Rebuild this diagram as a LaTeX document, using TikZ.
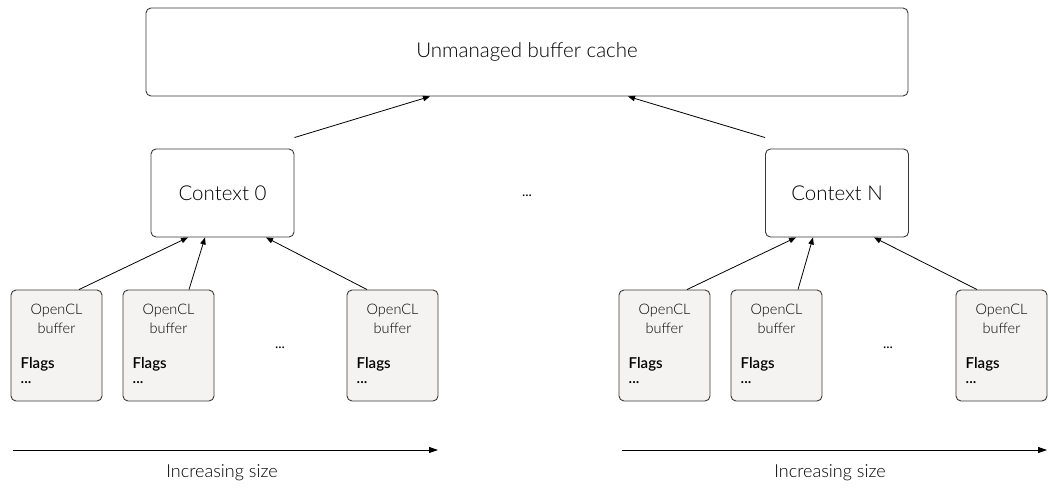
\documentclass[tikz,border=0pt]{standalone}
\usepackage{fontspec}
\setmainfont{Lato}
\newfontfamily\lightf{Lato Light}
\newfontfamily\semif{Lato Semibold}
\usetikzlibrary{arrows.meta}
\definecolor{boxfill}{HTML}{F4F3F1}
\definecolor{edge}{HTML}{3A3A3A}
\begin{document}
\begin{tikzpicture}[x=1pt,y=-1pt,
  box/.style={draw=edge,line width=0.9pt,rounded corners=5pt,inner sep=0pt},
  bufbox/.style={box,fill=boxfill,minimum width=91pt,minimum height=111pt},
  ctxbox/.style={box,fill=white,minimum width=143pt,minimum height=88pt,font=\lightf\fontsize{20.5}{24}\selectfont},
  lbl/.style={inner sep=0pt,font=\lightf\fontsize{14.5}{17}\selectfont},
  flag/.style={inner sep=0pt,anchor=west,font=\semif\fontsize{15}{17}\selectfont},
  conn/.style={line width=0.8pt,-{Triangle[length=7pt,width=5.5pt]}},
  axis/.style={line width=0.8pt,-{Triangle[length=9pt,width=6pt]}}]
\useasboundingbox (0,0) rectangle (1049,489);
% cache
\node[box,minimum width=762pt,minimum height=88pt,font=\lightf\fontsize{20.5}{24}\selectfont] (cache) at (527,52) {Unmanaged buffer cache};
% contexts
\node[ctxbox] (c0) at (222.5,193) {Context 0};
\node[ctxbox] (cN) at (837,193) {Context N};
\node[inner sep=0pt,font=\fontsize{14}{16}\selectfont] (mdots) at (527,196) {...};
% buffers
\foreach \n/\x in {a1/56.5,a2/168.5,a3/392.5,b1/664.5,b2/776.5,b3/1001.5}{
  \node[bufbox] (\n) at (\x,345.5) {};
  \node[lbl] (\n t1) at (\x,311) {OpenCL};
  \node[lbl] (\n t2) at (\x,328) {buffer};
  \node[flag] (\n f) at ([xshift=-36]\x,364) {Flags};
  \node[flag] (\n d) at ([xshift=-36]\x,383) {...};
}
\node[inner sep=0pt,font=\fontsize{14}{16}\selectfont] (ldots) at (280,348) {...};
\node[inner sep=0pt,font=\fontsize{14}{16}\selectfont] (rdots) at (888,348) {...};
% connectors
\draw[conn] ([xshift=22.5]a1.north) -- ([xshift=-34.5]c0.south);
\draw[conn] ([xshift=20.5]a2.north) -- ([xshift=-17.5]c0.south);
\draw[conn] ([xshift=-25.5]a3.north) -- ([xshift=43.5]c0.south);
\draw[conn] ([xshift=22.5]b1.north) -- ([xshift=-41]cN.south);
\draw[conn] ([xshift=21.5]b2.north) -- ([xshift=-24]cN.south);
\draw[conn] ([xshift=-24.5]b3.north) -- ([xshift=37]cN.south);
\draw[conn] ([yshift=11]c0.north east) -- ([xshift=-97]cache.south);
\draw[conn] ([yshift=11]cN.north west) -- ([xshift=101]cache.south);
% size axes
\coordinate (l0) at (13,450); \coordinate (l1) at (438,450);
\coordinate (r0) at (622,450); \coordinate (r1) at (1047,450);
\draw[axis] (l0) -- (l1);
\draw[axis] (r0) -- (r1);
\node[inner sep=0pt,font=\lightf\fontsize{18}{21}\selectfont] (lsize) at (222,473) {Increasing size};
\node[inner sep=0pt,font=\lightf\fontsize{18}{21}\selectfont] (rsize) at (830,473) {Increasing size};
\end{tikzpicture}
\end{document}
